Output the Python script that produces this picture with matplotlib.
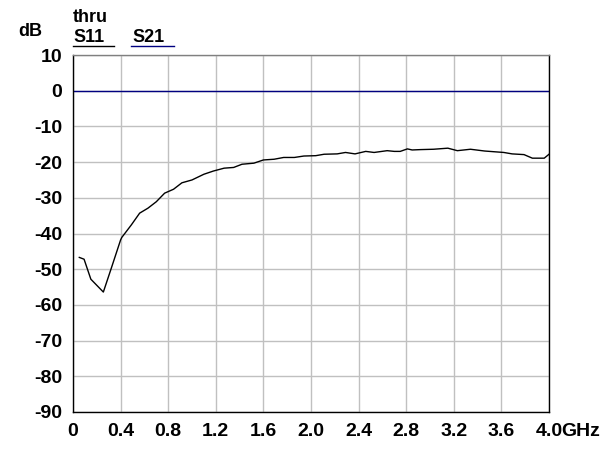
import numpy as np
import matplotlib.pyplot as plt
from matplotlib.lines import Line2D

# S11 trace (thru)
s11_ghz = [0.053, 0.093, 0.15, 0.255, 0.326, 0.40, 0.41, 0.49, 0.56, 0.63, 0.70, 0.77,
           0.845, 0.915, 1.0, 1.10, 1.18, 1.27, 1.35, 1.42, 1.52, 1.60, 1.69, 1.77,
           1.86, 1.94, 2.04, 2.11, 2.22, 2.29, 2.37, 2.46, 2.53, 2.64, 2.70, 2.75,
           2.81, 2.85, 2.92, 3.03, 3.15, 3.23, 3.34, 3.46, 3.62, 3.69, 3.79, 3.86,
           3.96, 4.0]
s11_db = [-46.7, -47.2, -52.8, -56.4, -49.3, -41.8, -41.1, -37.6, -34.3, -32.9, -31.1, -28.7,
          -27.6, -25.8, -25.0, -23.4, -22.5, -21.7, -21.5, -20.6, -20.3, -19.4, -19.2, -18.7,
          -18.7, -18.3, -18.2, -17.8, -17.7, -17.3, -17.7, -17.0, -17.3, -16.8, -17.0, -17.0,
          -16.3, -16.6, -16.5, -16.4, -16.1, -16.8, -16.4, -16.9, -17.3, -17.7, -17.9, -18.9,
          -18.9, -17.8]

# S21 trace: flat at 0 dB
s21_ghz = [0.0, 4.0]
s21_db = [0.0, 0.0]

x_ticks = [0, 0.4, 0.8, 1.2, 1.6, 2.0, 2.4, 2.8, 3.2, 3.6, 4.0]
x_labels = ['0', '0.4', '0.8', '1.2', '1.6', '2.0', '2.4', '2.8', '3.2', '3.6', '4.0']
y_ticks = list(range(-90, 11, 10))

plt.rcParams['font.family'] = ['Liberation Sans', 'DejaVu Sans']
plt.rcParams['axes.unicode_minus'] = False

fig = plt.figure(figsize=(6.16, 4.75), dpi=100)
ax = fig.add_axes([73 / 616, 63 / 475, 476 / 616, 357 / 475])

ax.plot(s21_ghz, s21_db, color='#000080', lw=1)
ax.plot(s11_ghz, s11_db, color='black', lw=1)

ax.set_xlim(0, 4.0)
ax.set_ylim(-90, 10)
ax.set_xticks(x_ticks)
ax.set_xticklabels(x_labels)
ax.set_yticks(y_ticks)
ax.grid(True, color='#c0c0c0', lw=1)
ax.tick_params(length=0, labelsize=14, pad=8)
for lab in ax.get_xticklabels() + ax.get_yticklabels():
    lab.set_fontweight('bold')
for sp in ax.spines.values():
    sp.set_color('black')
    sp.set_linewidth(1)
ax.spines['top'].set_color('#808080')

# unit label right after 4.0
ax.annotate('GHz', xy=(4.0, -90), xytext=(9, -8), textcoords='offset points',
            ha='left', va='top', fontsize=14, fontweight='bold', annotation_clip=False)

fig.text(18 / 616, 1 - 32 / 475, 'dB', fontsize=13, fontweight='bold', va='center')
fig.text(73 / 616, 1 - 17 / 475, 'thru', fontsize=13, fontweight='bold', va='center')
fig.text(73 / 616, 1 - 38 / 475, 'S11', fontsize=13, fontweight='bold', va='center')
fig.text(132 / 616, 1 - 38 / 475, 'S21', fontsize=13, fontweight='bold', va='center')
fig.add_artist(Line2D([73 / 616, 114 / 616], [1 - 46 / 475, 1 - 46 / 475], color='black', lw=1))
fig.add_artist(Line2D([131 / 616, 174 / 616], [1 - 46 / 475, 1 - 46 / 475], color='#000080', lw=1))

fig.savefig('out.png', dpi=100)
